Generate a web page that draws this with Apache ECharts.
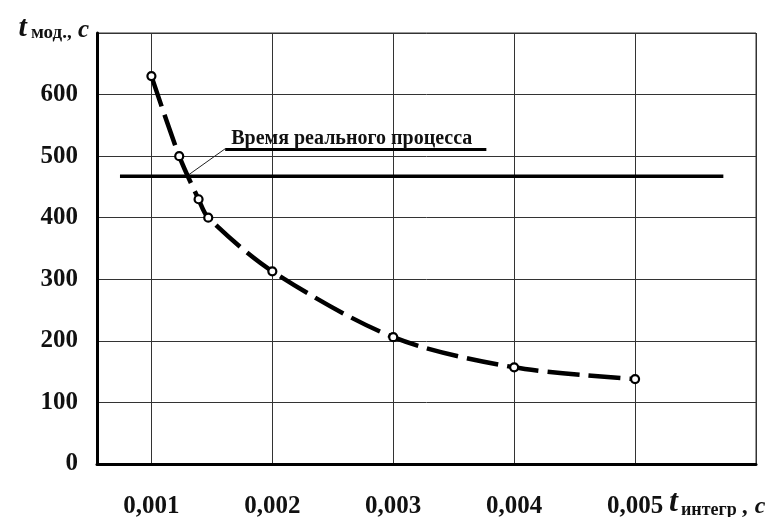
<!DOCTYPE html>
<html>
<head>
<meta charset="utf-8">
<script src="https://cdn.jsdelivr.net/npm/echarts@6/dist/echarts.min.js"></script>
<style>
  html, body { margin: 0; padding: 0; background: #fff; }
  #chart { width: 772px; height: 517px; }
</style>
</head>
<body>
<div id="chart"></div>
<script>
// шаг интегрирования, с
const stepValues = [0.001, 0.00123, 0.00139, 0.00147, 0.002, 0.003, 0.004, 0.005];
// время моделирования, с
const modelTimes = [630, 500, 430, 400, 313, 206, 157, 138];
// время реального процесса
const realTime = 467.5;
const realTimeSpan = [0.00074, 0.00573];
// выноска с подписью
const leaderX = [0.00131, 0.00161];
const leaderY = [470, 512];
const underlineX = [0.00161, 0.00377];
const realTimeLabel = 'Время реального процесса';

const FONT = 'Liberation Serif';

const chart = echarts.init(document.getElementById('chart'));

const option = {
  backgroundColor: '#fff',
  animation: false,
  grid: {
    left: 97,
    right: 16,
    top: 33,
    bottom: 53,
    outerBoundsMode: 'none',
    show: true,
    borderColor: '#333',
    borderWidth: 1
  },
  xAxis: {
    type: 'value',
    min: 0.00055,
    max: 0.006,
    minInterval: 0.001,
    maxInterval: 0.001,
    axisLine: { show: true, onZero: false, lineStyle: { color: '#000', width: 3 } },
    axisTick: { show: false },
    splitLine: { show: true, lineStyle: { color: '#333', width: 1 } },
    axisLabel: {
      showMinLabel: false,
      showMaxLabel: false,
      margin: 30,
      color: '#111',
      fontFamily: FONT,
      fontWeight: 'bold',
      fontSize: 25,
      formatter: v => v.toFixed(3).replace('.', ',')
    },
    name: '{t|t}{s|интегр}{c| , с}',
    nameLocation: 'end',
    nameGap: -90,
    nameTextStyle: {
      align: 'left',
      verticalAlign: 'top',
      padding: [23, 0, 0, 0],
      rich: {
        t: { fontFamily: FONT, fontWeight: 'bold', fontStyle: 'italic', fontSize: 32, color: '#111', verticalAlign: 'bottom' },
        s: { fontFamily: FONT, fontWeight: 'bold', fontSize: 18, color: '#111', verticalAlign: 'bottom', padding: [0, 0, 0, 3] },
        c: { fontFamily: FONT, fontWeight: 'bold', fontStyle: 'italic', fontSize: 24, color: '#111', verticalAlign: 'bottom' }
      }
    }
  },
  yAxis: {
    type: 'value',
    min: 0,
    max: 700,
    interval: 100,
    axisLine: { show: true, lineStyle: { color: '#000', width: 3 } },
    axisTick: { show: false },
    splitLine: { show: true, lineStyle: { color: '#333', width: 1 } },
    axisLabel: {
      showMaxLabel: false,
      margin: 19,
      color: '#111',
      fontFamily: FONT,
      fontWeight: 'bold',
      fontSize: 25
    },
    name: '{t|t}{s|мод.,}{c| с}',
    nameLocation: 'end',
    nameGap: -10,
    nameTextStyle: {
      align: 'right',
      verticalAlign: 'bottom',
      padding: [0, 8, 0, 0],
      rich: {
        t: { fontFamily: FONT, fontWeight: 'bold', fontStyle: 'italic', fontSize: 30, color: '#111', verticalAlign: 'bottom' },
        s: { fontFamily: FONT, fontWeight: 'bold', fontSize: 19, color: '#111', verticalAlign: 'bottom', padding: [0, 0, 0, 4] },
        c: { fontFamily: FONT, fontWeight: 'bold', fontStyle: 'italic', fontSize: 25, color: '#111', verticalAlign: 'bottom' }
      }
    }
  },
  series: [
    {
      name: 'Время реального процесса',
      type: 'line',
      data: realTimeSpan.map(x => [x, realTime]),
      showSymbol: false,
      silent: true,
      lineStyle: { color: '#000', width: 3.5 },
      z: 3
    },
    {
      name: 'выноска',
      type: 'line',
      data: leaderX.map((x, i) => [x, leaderY[i]]),
      showSymbol: false,
      silent: true,
      lineStyle: { color: '#222', width: 1 },
      markLine: {
        silent: true,
        symbol: 'none',
        lineStyle: { color: '#000', width: 3, type: 'solid' },
        label: {
          show: true,
          position: 'insideStartTop',
          distance: [6, 0],
          formatter: realTimeLabel,
          color: '#111',
          fontFamily: FONT,
          fontWeight: 'bold',
          fontSize: 20
        },
        data: [[
          { coord: [underlineX[0], leaderY[1]] },
          { coord: [underlineX[1], leaderY[1]] }
        ]]
      },
      z: 3
    },
    {
      name: 'tмод',
      type: 'line',
      data: stepValues.map((x, i) => [x, modelTimes[i]]),
      smooth: 0.3,
      symbol: 'circle',
      symbolSize: 8,
      itemStyle: { color: '#fff', borderColor: '#000', borderWidth: 2.2 },
      lineStyle: { color: '#000', width: 4.5, type: [32, 9] },
      z: 5
    }
  ]
};

chart.setOption(option);
</script>
</body>
</html>
